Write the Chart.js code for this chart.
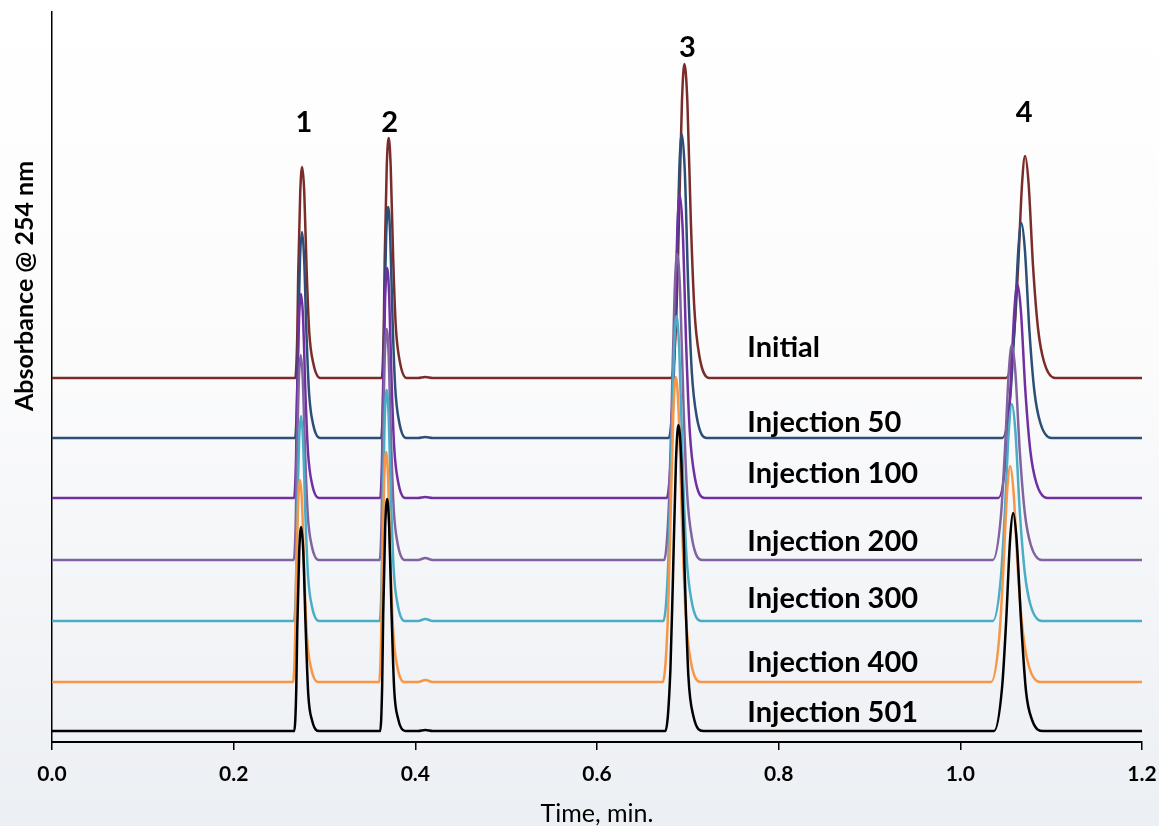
<!DOCTYPE html>
<html><head><meta charset="utf-8">
<script src="https://cdn.jsdelivr.net/npm/chart.js@4.4.1/dist/chart.umd.min.js"></script>
<style>html,body{margin:0;padding:0;background:#fff;overflow:hidden}#wrap{width:1159px;height:826px;position:relative}</style>
</head><body><div id="wrap"><canvas id="c" width="1159" height="826"></canvas></div>
<script>
// ---- data (time in min, absorbance in arbitrary units, traces are vertically offset) ----
const seriesNames = ['Initial','Injection 50','Injection 100','Injection 200','Injection 300','Injection 400','Injection 501'];
const peakNames = ['1','2','3','4'];
const xTickValues = [0.0,0.2,0.4,0.6,0.8,1.0,1.2];

const timeInitial = [0,0.2678,0.2700,0.2711,0.2733,0.2755,0.2777,0.2804,0.2832,0.2876,0.2953,0.3630,0.3652,0.3663,0.3685,0.3707,0.3729,0.3756,0.3784,0.3828,0.3905,0.403,0.411,0.419,0.6819,0.6874,0.6902,0.6935,0.6962,0.6995,0.7033,0.7072,0.7127,0.7237,1.0504,1.0592,1.0636,1.0680,1.0713,1.0751,1.0801,1.0856,1.0922,1.1043,1.2];
const absInitial  = [364,364,406,470,550,575,550,470,410,379,364,364,412,484,575,604,575,484,417,381,364,364,365,364,364,427,521,640,678,640,521,433,386,364,364,408,475,559,586,559,475,413,380,364,364];

const timeInj50 = [0,0.2676,0.2698,0.2709,0.2731,0.2753,0.2775,0.2802,0.2830,0.2874,0.2951,0.3624,0.3646,0.3657,0.3679,0.3701,0.3723,0.3750,0.3778,0.3822,0.3899,0.403,0.411,0.419,0.6790,0.6845,0.6873,0.6906,0.6933,0.6966,0.7004,0.7043,0.7098,0.7208,1.0463,1.0551,1.0595,1.0639,1.0672,1.0710,1.0760,1.0815,1.0881,1.1002,1.2];
const absInj50  = [304,304,345,407,485,510,485,407,349,318,304,304,350,420,507,535,507,420,355,320,304,304,305,304,304,365,456,572,608,572,456,371,325,304,304,347,412,493,519,493,412,351,319,304,304];

const timeInj100 = [0,0.2665,0.2687,0.2698,0.2720,0.2742,0.2764,0.2791,0.2819,0.2863,0.2940,0.3613,0.3635,0.3646,0.3668,0.3690,0.3712,0.3739,0.3767,0.3811,0.3888,0.403,0.411,0.419,0.6768,0.6823,0.6851,0.6884,0.6911,0.6944,0.6982,0.7021,0.7076,0.7186,1.0419,1.0507,1.0551,1.0595,1.0628,1.0666,1.0716,1.0771,1.0837,1.0958,1.2];
const absInj100  = [244,244,285,346,424,448,424,346,289,258,244,244,290,359,446,474,446,359,295,260,244,244,245,244,244,305,396,511,547,511,396,311,265,244,244,287,351,432,458,432,351,291,259,244,244];

const timeInj200 = [0,0.2662,0.2684,0.2695,0.2717,0.2739,0.2761,0.2788,0.2816,0.2860,0.2937,0.3608,0.3630,0.3641,0.3663,0.3685,0.3707,0.3734,0.3762,0.3806,0.3883,0.403,0.411,0.419,0.6739,0.6794,0.6822,0.6855,0.6882,0.6915,0.6953,0.6992,0.7047,0.7157,1.0358,1.0446,1.0490,1.0534,1.0567,1.0605,1.0655,1.0710,1.0776,1.0897,1.2];
const absInj200  = [182,182,223,285,362,387,362,285,227,196,182,182,228,298,385,413,385,298,233,198,182,182,184,182,182,243,335,451,488,451,335,249,203,182,182,225,290,371,397,371,290,229,197,182,182];

const timeInj300 = [0,0.2665,0.2687,0.2698,0.2720,0.2742,0.2764,0.2791,0.2819,0.2863,0.2940,0.3608,0.3630,0.3641,0.3663,0.3685,0.3707,0.3734,0.3762,0.3806,0.3883,0.403,0.411,0.419,0.6731,0.6786,0.6814,0.6847,0.6874,0.6907,0.6945,0.6984,0.7039,0.7149,1.0358,1.0446,1.0490,1.0534,1.0567,1.0605,1.0655,1.0710,1.0776,1.0897,1.2];
const absInj300  = [121,121,162,224,301,326,301,224,166,135,121,121,167,237,324,352,324,237,172,137,121,121,123,121,121,182,274,389,426,389,274,188,142,121,121,164,230,312,338,312,230,169,136,121,121];

const timeInj400 = [0,0.2654,0.2676,0.2687,0.2709,0.2731,0.2753,0.2780,0.2808,0.2852,0.2929,0.3602,0.3624,0.3635,0.3657,0.3679,0.3701,0.3728,0.3756,0.3800,0.3877,0.403,0.411,0.419,0.6724,0.6779,0.6807,0.6840,0.6867,0.6900,0.6938,0.6977,0.7032,0.7142,1.0339,1.0427,1.0471,1.0515,1.0548,1.0586,1.0636,1.0691,1.0757,1.0878,1.2];
const absInj400  = [60,60,100,161,238,262,238,161,104,74,60,60,106,175,262,290,262,175,111,76,60,60,62,60,60,121,213,328,365,328,213,127,81,60,60,103,168,250,276,250,168,108,75,60,60];

const timeInj501 = [0,0.2667,0.2689,0.2700,0.2722,0.2744,0.2766,0.2793,0.2821,0.2865,0.2942,0.3613,0.3635,0.3646,0.3668,0.3690,0.3712,0.3739,0.3767,0.3811,0.3888,0.403,0.411,0.419,0.6753,0.6808,0.6836,0.6869,0.6896,0.6929,0.6967,0.7006,0.7061,0.7171,1.0372,1.0460,1.0504,1.0548,1.0581,1.0619,1.0669,1.0724,1.0790,1.0911,1.2];
const absInj501  = [11,11,52,113,191,215,191,113,48,21,11,11,57,127,215,243,215,127,53,23,11,11,12,11,11,72,164,280,317,280,164,66,26,11,11,55,120,203,229,203,120,50,22,11,11];

// ---- styling / layout ----
const seriesTimes = [timeInitial,timeInj50,timeInj100,timeInj200,timeInj300,timeInj400,timeInj501];
const seriesAbs = [absInitial,absInj50,absInj100,absInj200,absInj300,absInj400,absInj501];
const seriesColors = ['#7a2c2b','#2c4e77','#7030a0','#8064a2','#4bacc6','#f79646','#000000'];
const labelPos = [[0.7655,385],[0.7655,310],[0.7655,259],[0.7655,191],[0.7655,134],[0.7655,70],[0.7655,20]];
const peakLabelPos = [[0.2772,610],[0.3718,610],[0.6995,685],[1.0702,620]];
const FONT = 'Lato, "Open Sans", sans-serif';

const datasets = seriesNames.map((name,i)=>({
  label: name,
  data: seriesTimes[i].map((t,k)=>({x:t,y:seriesAbs[i][k]})),
  borderColor: seriesColors[i],
  borderWidth: 2.5,
  pointRadius: 0,
  fill: false,
  cubicInterpolationMode: 'monotone',
  order: seriesNames.length - i
}));

const bgPlugin = {
  id:'bg',
  beforeDraw(chart){
    const {ctx,width,height} = chart;
    const g = ctx.createLinearGradient(0,0,0,height);
    g.addColorStop(0,'#ffffff'); g.addColorStop(0.45,'#fbfbfc'); g.addColorStop(1,'#eceff3');
    ctx.save(); ctx.fillStyle=g; ctx.fillRect(0,0,width,height); ctx.restore();
  }
};

const textPlugin = {
  id:'texts',
  afterDraw(chart){
    const {ctx} = chart; const xs = chart.scales.x, ys = chart.scales.y;
    ctx.save();
    ctx.fillStyle = '#000';
    ctx.font = 'bold 29px ' + FONT;
    ctx.textAlign='left'; ctx.textBaseline='alphabetic';
    seriesNames.forEach((n,i)=>{
      ctx.fillText(n, xs.getPixelForValue(labelPos[i][0]), ys.getPixelForValue(labelPos[i][1]));
    });
    ctx.font = 'bold 29px ' + FONT; ctx.textAlign='center';
    peakNames.forEach((n,i)=>{
      ctx.fillText(n, xs.getPixelForValue(peakLabelPos[i][0]), ys.getPixelForValue(peakLabelPos[i][1]));
    });
    // y axis title
    ctx.translate(25, 286); ctx.rotate(-Math.PI/2);
    ctx.font = 'bold 25px ' + FONT; ctx.textAlign='center'; ctx.textBaseline='middle';
    ctx.fillText('Absorbance @ 254 nm', 0, 0);
    ctx.restore();
  }
};

new Chart(document.getElementById('c'), {
  type:'line',
  data:{datasets},
  options:{
    responsive:false, animation:false, devicePixelRatio:1,
    layout:{padding:{top:12,right:17,left:0,bottom:0}},
    plugins:{legend:{display:false},tooltip:{enabled:false}},
    scales:{
      x:{
        type:'linear', min:0, max:1.2,
        afterBuildTicks(s){ s.ticks = xTickValues.map(v=>({value:v})); },
        afterFit(s){ s.height = 84; s.paddingRight = 0; s.paddingLeft = 0; },
        ticks:{ color:'#000', font:{family:FONT, size:21, weight:'bold'}, padding:12,
                callback:v=>Number(v).toFixed(1), maxRotation:0 },
        grid:{ display:true, drawOnChartArea:false, drawTicks:true, tickLength:8, color:'#000', lineWidth:1.5 },
        border:{ display:true, color:'#000', width:2 },
        title:{ display:true, text:'Time, min.', color:'#000', font:{family:FONT, size:25, weight:'normal'}, padding:{top:0,bottom:-3} }
      },
      y:{
        type:'linear', min:0, max:730,
        afterFit(s){ s.width = 52; },
        ticks:{ display:false },
        grid:{ display:false, drawTicks:false },
        border:{ display:true, color:'#000', width:1.5 }
      }
    }
  },
  plugins:[bgPlugin,textPlugin]
});
</script></body></html>
